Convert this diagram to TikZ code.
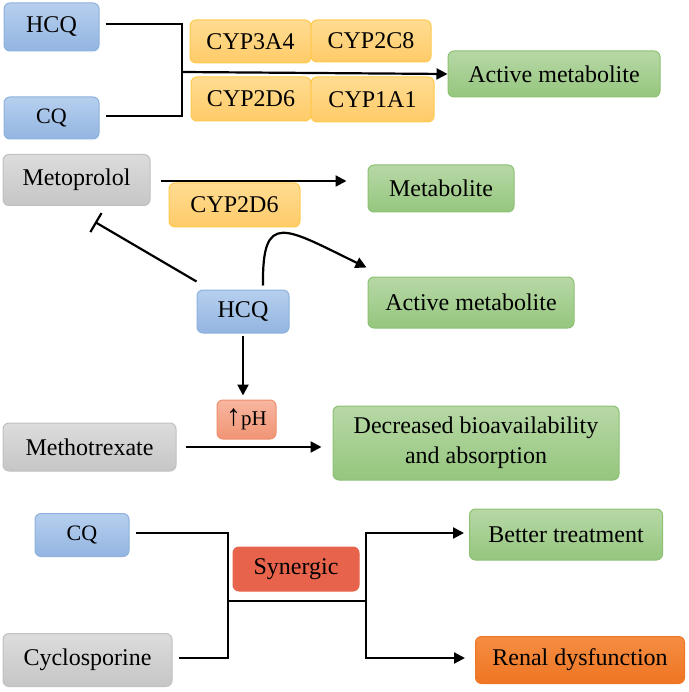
\documentclass[tikz,border=0pt]{standalone}
\usepackage{fontspec}
\setmainfont{Liberation Serif}
\usepackage{tikz}
\usepackage{xcolor}
\usetikzlibrary{arrows.meta}
\definecolor{drugtop}{HTML}{B6CFEE}
\definecolor{drugbot}{HTML}{93B5E1}
\definecolor{drugline}{HTML}{8EB1DD}
\definecolor{enztop}{HTML}{FFDC92}
\definecolor{enzbot}{HTML}{FFCB68}
\definecolor{enzline}{HTML}{FFC94E}
\definecolor{restop}{HTML}{B7D8A6}
\definecolor{resbot}{HTML}{95C67E}
\definecolor{resline}{HTML}{8DC172}
\definecolor{othtop}{HTML}{DCDCDC}
\definecolor{othbot}{HTML}{C6C6C6}
\definecolor{othline}{HTML}{C0C0C0}
\definecolor{phtop}{HTML}{F7B7A0}
\definecolor{phbot}{HTML}{F19474}
\definecolor{phline}{HTML}{EE8E6D}
\definecolor{syn}{HTML}{E8634C}
\definecolor{rentop}{HTML}{F58D42}
\definecolor{renbot}{HTML}{EE7523}
\tikzset{
    base-box/.style = {draw, rounded corners=6pt, line width=1pt, inner sep=0pt, align=center, font=\fontsize{24}{30}\selectfont},
    drug-box/.style = {base-box, draw=drugline, top color=drugtop, bottom color=drugbot},
    enzyme-box/.style = {base-box, draw=enzline, top color=enztop, bottom color=enzbot},
    result-box/.style = {base-box, draw=resline, top color=restop, bottom color=resbot},
    other-box/.style = {base-box, draw=othline, top color=othtop, bottom color=othbot},
    ph-box/.style = {base-box, draw=phline, top color=phtop, bottom color=phbot, font=\fontsize{21}{24}\selectfont},
    syn-box/.style = {base-box, draw=syn, fill=syn},
    renal-box/.style = {base-box, draw=renbot, top color=rentop, bottom color=renbot},
    link/.style = {line width=2.2pt, black},
    arrow/.style = {link, -{Triangle[length=11pt,width=11pt]}},
    inhibit/.style = {link, -{Bar[width=22pt,line width=2.2pt]}},
}
\begin{document}
\begin{tikzpicture}[x=1pt,y=-1pt]
\useasboundingbox (0,0) rectangle (688,692);
% first pathway
\node[drug-box, minimum width=95pt, minimum height=48pt] (hcq1) at (51.5,27) {HCQ};
\node[drug-box, minimum width=95pt, minimum height=42pt, font=\fontsize{22}{26}\selectfont] (cq1) at (51.5,118) {CQ};
\node[enzyme-box, minimum width=121pt, minimum height=43pt] (cyp3a4) at (250.5,41.5) {CYP3A4};
\node[enzyme-box, minimum width=120pt, minimum height=42pt] (cyp2c8) at (371,41) {CYP2C8};
\node[enzyme-box, minimum width=120pt, minimum height=44pt] (cyp2d6a) at (251,99) {CYP2D6};
\node[enzyme-box, minimum width=123pt, minimum height=45pt] (cyp1a1) at (372.5,99.5) {CYP1A1};
\node[result-box, minimum width=212pt, minimum height=46pt] (active1) at (554,74) {Active metabolite};
\coordinate (j1) at (182,72);
\draw[link] ([xshift=6pt,yshift=3pt]hcq1.east) -| (j1) |- ([xshift=6pt,yshift=2pt]cq1.east);
\draw[arrow] (j1) -- (active1.west);

% metoprolol
\node[other-box, minimum width=147pt, minimum height=51pt] (meto) at (76.5,180) {Metoprolol};
\node[enzyme-box, minimum width=131pt, minimum height=44pt] (cyp2d6b) at (234.5,205) {CYP2D6};
\node[result-box, minimum width=146pt, minimum height=47pt] (metab) at (441,188.5) {Metabolite};
\node[drug-box, minimum width=92pt, minimum height=43pt] (hcq2) at (243,311.5) {HCQ};
\node[result-box, minimum width=206pt, minimum height=51pt] (active2) at (471,302.5) {Active metabolite};
\coordinate (stop) at (95,222);
\draw[arrow] ([xshift=10pt,yshift=-1pt]meto.east) -- ([xshift=-21pt,yshift=-1pt]meto.east -| metab.west);
\draw[inhibit] ([yshift=8pt]hcq2.north west) -- (stop);
\draw[arrow] ([xshift=20pt,yshift=4pt]hcq2.north) .. controls (262,210) and (285,228) .. ([xshift=-1pt,yshift=9pt]active2.north west);

% methotrexate
\node[ph-box, minimum width=59pt, minimum height=39pt] (ph) at (246.5,419.5) {{\fontsize{30}{30}\selectfont ↑}pH};
\node[other-box, minimum width=173pt, minimum height=48pt] (metho) at (89.5,447) {Methotrexate};
\node[result-box, minimum width=286pt, minimum height=74pt] (decr) at (476,443) {Decreased bioavailability\\and absorption};
\draw[arrow] ([yshift=-2pt]hcq2.south) -- ([yshift=4pt]hcq2.south |- ph.north);
\draw[arrow] ([xshift=9pt]metho.east) -- ([xshift=-11pt]metho.east -| decr.west);

% cyclosporine
\node[drug-box, minimum width=94pt, minimum height=43pt, font=\fontsize{22}{26}\selectfont] (cq2) at (82,535) {CQ};
\node[other-box, minimum width=169pt, minimum height=53pt] (cyclo) at (87.5,660) {Cyclosporine};
\node[syn-box, minimum width=126pt, minimum height=44pt] (syn) at (296,569) {Synergic};
\node[result-box, minimum width=193pt, minimum height=51pt] (better) at (566,534.5) {Better treatment};
\node[renal-box, minimum width=209pt, minimum height=47pt] (renal) at (580,660) {Renal dysfunction};
\coordinate (j2) at (228,601);
\coordinate (j3) at (366,601);
\draw[link] ([xshift=6pt,yshift=2pt]cq2.east) -| (j2) |- ([xshift=6pt,yshift=2pt]cyclo.east);
\draw[link] (j2) -- (j3);
\draw[arrow, shorten >=5pt] (j3) |- ([yshift=1.5pt]better.west);
\draw[arrow, shorten >=10pt] (j3) |- ([yshift=2pt]renal.west);
\end{tikzpicture}
\end{document}
